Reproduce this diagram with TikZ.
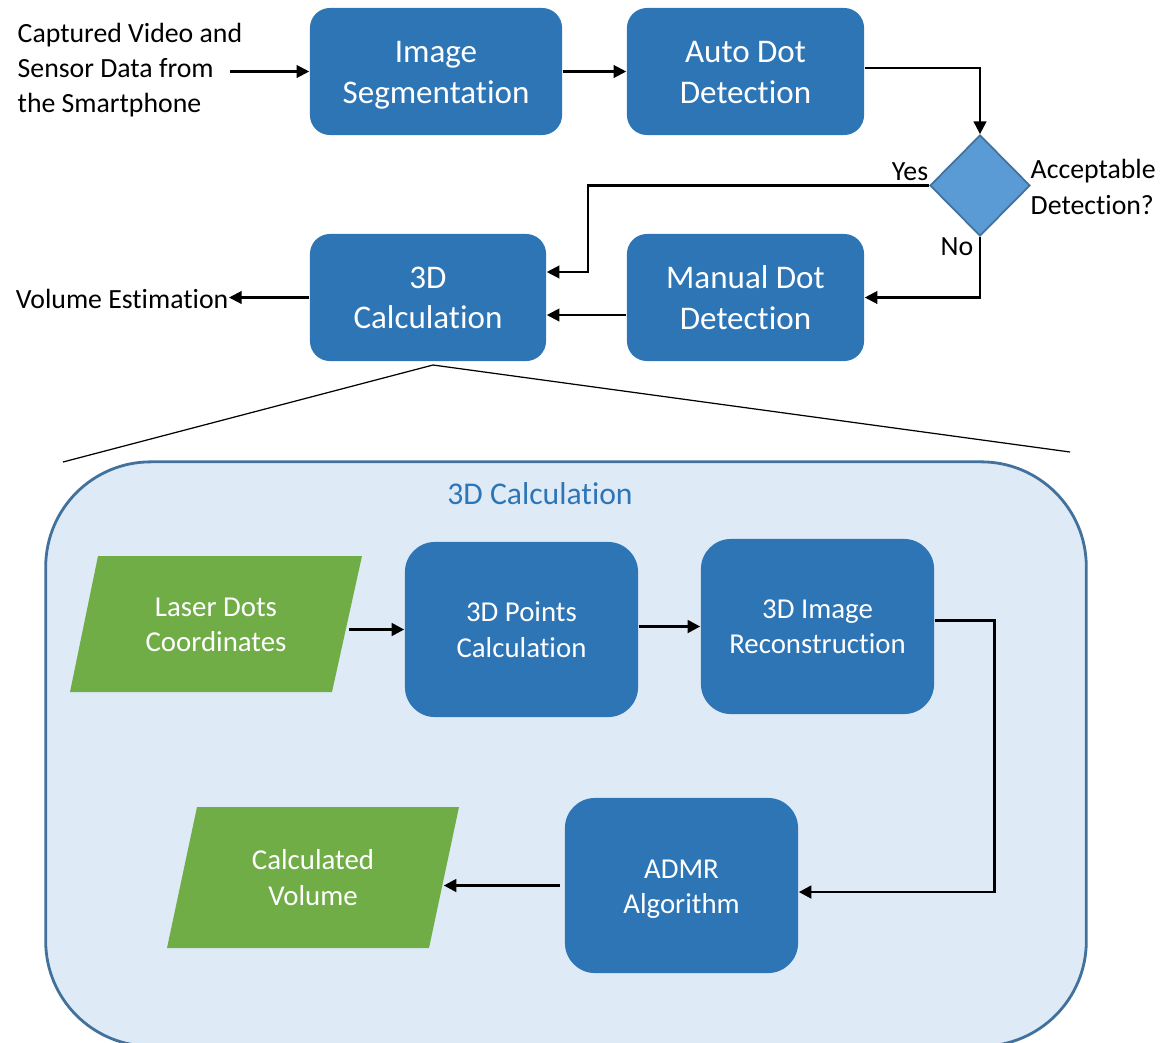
\documentclass[tikz,border=0pt]{standalone}
\usepackage{fontspec}
\setmainfont{Carlito}[Ligatures={CommonOff,ContextualOff,RequiredOff,RareOff}]
\usetikzlibrary{arrows.meta,shapes.geometric,calc}
\definecolor{boxblue}{HTML}{2E75B6}
\definecolor{diafill}{HTML}{5B9BD5}
\definecolor{diaedge}{HTML}{41719C}
\definecolor{paleblue}{HTML}{DEEBF7}
\definecolor{leafgreen}{HTML}{70AD47}
\newcommand{\lowered}[2]{\raisebox{-#1}[\height][\depth]{\begin{tabular}{@{}c@{}}#2\end{tabular}}}
\tikzset{
  topbox/.style={rectangle, rounded corners=0.2cm, fill=boxblue, text=white, inner sep=0pt,
    minimum height=1.27cm, align=center, font=\fontsize{9.4}{11.4}\selectfont},
  lowbox/.style={rectangle, rounded corners=0.3cm, fill=boxblue, text=white, inner sep=0pt,
    minimum width=2.33cm, minimum height=1.75cm, align=center, font=\fontsize{8.2}{10.1}\selectfont},
  paratext/.style={rectangle, inner sep=0pt, text=white, align=center, font=\fontsize{8.2}{10.1}\selectfont},
  lbl/.style={inner sep=0pt, font=\fontsize{7.9}{10}\selectfont},
  arr/.style={line width=0.6pt, -{Triangle[length=3.6pt,width=3.6pt]}},
  arrl/.style={line width=0.8pt, -{Triangle[length=3.6pt,width=3.6pt]}},
  zoomline/.style={line width=0.35pt},
}
\begin{document}
\begin{tikzpicture}[x=0.01cm, y=-0.01cm]
\useasboundingbox (0,0) rectangle (1161,1042);

% ---------- top flow ----------
\node[lbl, anchor=west, align=left] (input) at (17,70) {Captured Video and\\Sensor Data from\\the Smartphone};
\node[topbox, minimum width=2.52cm] (seg) at (436,71.5) {\lowered{0.035cm}{Image\\Segmentation}};
\node[topbox, minimum width=2.37cm] (auto) at (745.5,71.5) {\lowered{0.035cm}{Auto Dot\\Detection}};
\node[diamond, aspect=1, inner sep=0pt, minimum width=1cm, minimum height=1.01cm,
      fill=diafill, draw=diaedge, line width=0.5pt] (dia) at (980,185.5) {};
\node[lbl, anchor=west, align=left] (acc) at (1030,187) {Acceptable\\Detection?};
\node[lbl] (yes) at (910,172) {Yes};
\node[lbl] (no) at (957,247) {No};
\node[topbox, minimum width=2.36cm] (calc) at (428,297.5) {\lowered{0.03cm}{3D\\Calculation}};
\node[topbox, minimum width=2.37cm] (man) at (745.5,297.5) {\lowered{0.035cm}{Manual Dot\\Detection}};
\node[lbl, anchor=east] (vol) at (229,299) {Volume Estimation};

\draw[arr] ([xshift=-0.13cm]input.east |- seg.west) -- (seg.west);
\draw[arr] (seg.east) -- (auto.west);
\draw[arr] ([yshift=0.035cm]auto.east) -| (dia.north);
\draw[arr] (dia.west) -- ++(-3.41cm,0) |- ([yshift=0.255cm]calc.east);
\draw[arr] (dia.south) |- (man.east);
\draw[arr] ([yshift=-0.175cm]man.west) -- ([yshift=-0.175cm]calc.east);
\draw[arr] (calc.west) -- (vol.east |- calc.west);

% ---------- zoom lines ----------
\coordinate (apex) at (433,365);
\coordinate (zl) at (63,462);
\coordinate (zr) at (1070,452);
\draw[zoomline] (zl) -- (apex) -- (zr);

% ---------- detail container ----------
\node[rectangle, rounded corners=1.05cm, fill=paleblue, draw=diaedge, line width=0.8pt,
      minimum width=10.4cm, minimum height=5.84cm, inner sep=0pt] (grp) at (566,754) {};
\node[inner sep=0pt, text=boxblue, font=\fontsize{9}{11}\selectfont] (title) at (540,494) {3D Calculation};

\fill[leafgreen] (98,556) -- (362,556) -- (332,692) -- (70,692) -- cycle;
\node[paratext, minimum width=2.64cm, minimum height=1.36cm] (laser) at (216,625) {Laser Dots\\Coordinates};
\fill[leafgreen] (197,807) -- (459,807) -- (429,948) -- (167,948) -- cycle;
\node[paratext, minimum width=2.62cm, minimum height=1.41cm] (cvol) at (313,877.5) {Calculated\\Volume};

\node[lowbox] (pts) at (521.5,629.5) {3D Points\\Calculation};
\node[lowbox] (img) at (817.5,626.5) {3D Image\\Reconstruction};
\node[lowbox] (admr) at (681.5,885.5) {\lowered{0.035cm}{ADMR\\Algorithm}};

\draw[arrl] (laser.east |- pts.west) -- (pts.west);
\draw[arrl] (pts.east |- img.west) -- (img.west);
\draw[arrl] ([yshift=0.06cm]img.east) -- ++(0.6cm,0) |- ([yshift=-0.065cm]admr.east);
\draw[arrl] ([xshift=-0.04cm]admr.west) -- ([xshift=-0.01cm]admr.west -| cvol.east);
\end{tikzpicture}
\end{document}
